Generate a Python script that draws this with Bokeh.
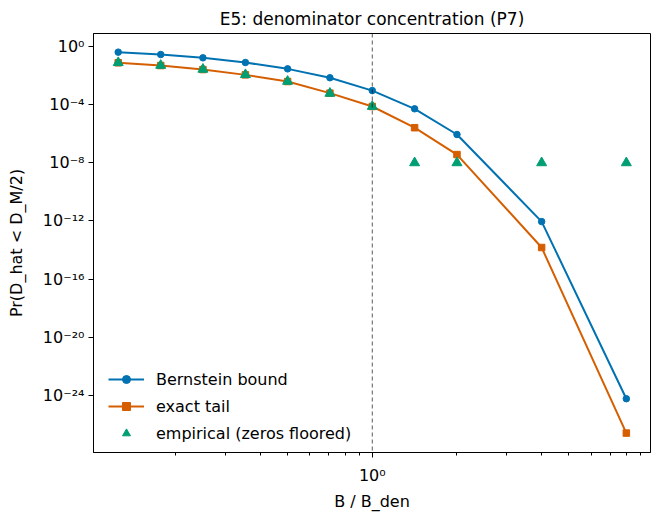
from bokeh.plotting import figure
from bokeh.models import Range1d, FixedTicker, Span, CustomJSTickFormatter, Legend
from bokeh.embed import file_html
from bokeh.resources import INLINE

# ---- data ----
b_ratio = [0.125, 0.177, 0.25, 0.354, 0.5, 0.707, 1.0, 1.414, 2.0, 4.0, 8.0]
bernstein = [0.41, 0.28, 0.166, 0.079, 0.029, 7.1e-3, 9.3e-4, 5.2e-5, 8.9e-7, 9.1e-13, 6.0e-25]
exact_tail = [0.076, 0.049, 0.026, 0.0112, 3.9e-3, 6.2e-4, 7.5e-5, 2.6e-6, 3.7e-8, 1.5e-14, 2.6e-27]
empirical = [0.077, 0.050, 0.027, 0.0115, 4.0e-3, 6.0e-4, 7.5e-5, 1e-8, 1e-8, 1e-8, 1e-8]

x_major = [1.0]
x_minor = [0.2, 0.3, 0.4, 0.5, 0.6, 0.7, 0.8, 0.9, 2, 3, 4, 5, 6, 7, 8, 9]
y_major = [1e0, 1e-4, 1e-8, 1e-12, 1e-16, 1e-20, 1e-24]

FONT = "DejaVu Sans"
BLUE, ORANGE, GREEN = "#0072B2", "#D55E00", "#009E73"

p = figure(width=658, height=515, x_axis_type="log", y_axis_type="log",
           x_range=Range1d(10 ** -0.991, 10 ** 0.989),
           y_range=Range1d(10 ** -27.92, 10 ** 0.894),
           output_backend="svg", toolbar_location=None,
           min_border_left=93, min_border_right=8, min_border_top=33, min_border_bottom=63,
           title="E5: denominator concentration (P7)")

p.title.text_font = FONT
p.title.text_font_size = "17px"
p.title.text_font_style = "normal"
p.title.align = "center"
p.title.text_color = "black"

p.xgrid.visible = False
p.ygrid.visible = False
p.outline_line_color = "black"
p.outline_line_width = 1
p.outline_line_alpha = 1

fmt = CustomJSTickFormatter(code="""
const sup = {'-':'\u207b','0':'\u2070','1':'\u00b9','2':'\u00b2','3':'\u00b3','4':'\u2074',
             '5':'\u2075','6':'\u2076','7':'\u2077','8':'\u2078','9':'\u2079'};
const e = Math.round(Math.log10(tick));
return '10' + String(e).split('').map(c => sup[c]).join('');
""")

p.xaxis.ticker = FixedTicker(ticks=x_major, minor_ticks=x_minor)
p.yaxis.ticker = FixedTicker(ticks=y_major, minor_ticks=[])
for ax in (p.xaxis[0], p.yaxis[0]):
    ax.formatter = fmt
    ax.major_label_text_font = FONT
    ax.major_label_text_font_size = "16px"
    ax.major_label_text_color = "black"
    ax.axis_label_text_font = FONT
    ax.axis_label_text_font_size = "16px"
    ax.axis_label_text_font_style = "normal"
    ax.axis_label_text_color = "black"
    ax.axis_line_color = "black"
    ax.major_tick_line_color = "black"
    ax.minor_tick_line_color = "black"
    ax.major_tick_in = 0
    ax.major_tick_out = 5
    ax.minor_tick_in = 0
    ax.minor_tick_out = 3

p.xaxis.major_label_standoff = 8
p.yaxis.major_label_standoff = 4
p.xaxis.axis_label = "B / B_den"
p.yaxis.axis_label = "Pr(D_hat < D_M/2)"
p.xaxis.axis_label_standoff = 4
p.yaxis.axis_label_standoff = 14

p.add_layout(Span(location=1.0, dimension="height", line_color="black", line_alpha=0.65,
                  line_width=1, line_dash="4 3"))

l1 = p.line(b_ratio, bernstein, line_color=BLUE, line_width=2)
s1 = p.scatter(b_ratio, bernstein, marker="circle", size=6.5, fill_color=BLUE, line_color=BLUE)
l2 = p.line(b_ratio, exact_tail, line_color=ORANGE, line_width=2)
s2 = p.scatter(b_ratio, exact_tail, marker="square", size=6.5, fill_color=ORANGE, line_color=ORANGE)
s3 = p.scatter(b_ratio, empirical, marker="triangle", size=10, fill_color=GREEN, line_color=GREEN)

legend = Legend(items=[("Bernstein bound", [l1, s1]),
                       ("exact tail", [l2, s2]),
                       ("empirical (zeros floored)", [s3])],
                location=(10, 4))
legend.label_text_font = FONT
legend.label_text_font_size = "16px"
legend.label_text_color = "black"
legend.border_line_alpha = 0
legend.background_fill_alpha = 0
legend.padding = 5
legend.spacing = 7
legend.glyph_width = 36
legend.glyph_height = 20
legend.label_height = 20
legend.label_standoff = 12
p.add_layout(legend, "center")

open("out.html", "w").write(file_html(p, INLINE))
